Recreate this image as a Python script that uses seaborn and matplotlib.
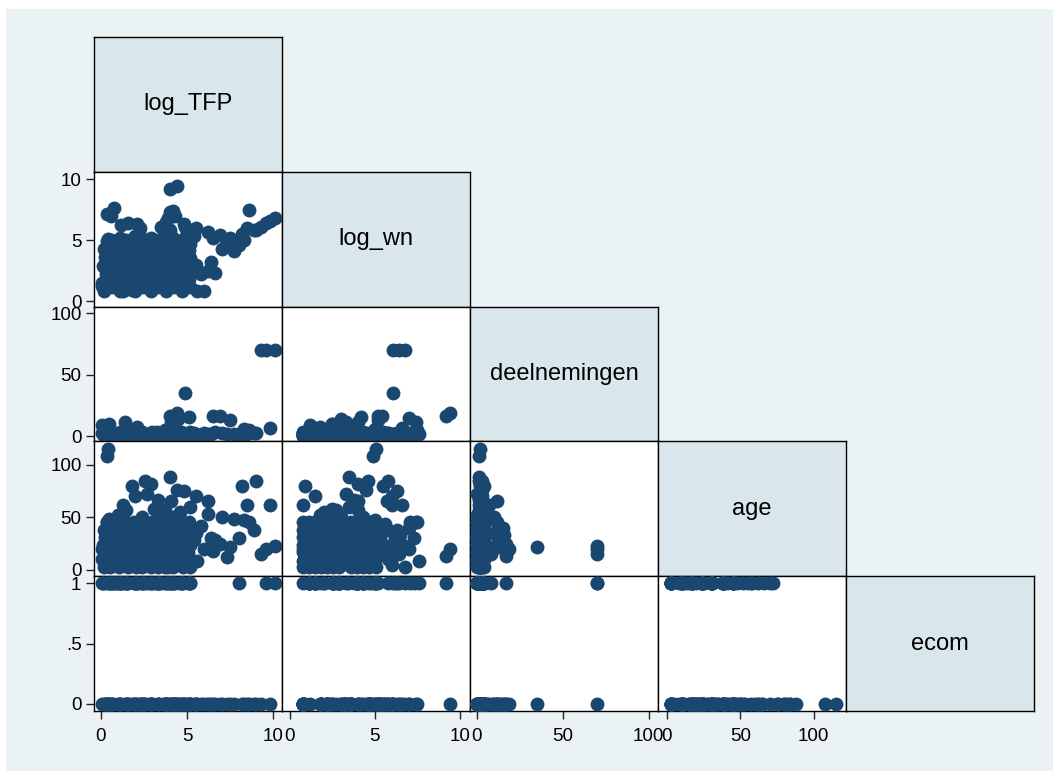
import matplotlib
matplotlib.use("Agg")
import matplotlib.pyplot as plt
import seaborn as sns
import pandas as pd
from matplotlib.patches import Rectangle

sns.set_style("white")
plt.rcParams["font.family"] = ["Liberation Sans", "DejaVu Sans"]

variables = ["log_TFP", "log_wn", "deelnemingen", "age", "ecom"]

log_TFP = [
    0.2, 0.1, 0.3, 0.15, 0.25, 0.2, 0.35,
    0.65, 0.6, 0.7, 0.65, 0.55, 0.7, 0.6,
    1.1, 1.05, 1.15, 1.1, 1.0, 1.2, 1.1,
    1.55, 1.5, 1.6, 1.55, 1.45, 1.6, 1.5,
    2.0, 1.95, 2.05, 2.0, 1.9, 2.1, 2.0,
    2.45, 2.4, 2.5, 2.45, 2.35, 2.5, 2.4,
    2.9, 2.85, 2.95, 2.9, 2.8, 3.0, 2.9,
    3.35, 3.3, 3.4, 3.35, 3.25, 3.4, 3.3,
    3.8, 3.75, 3.85, 3.8, 3.7, 3.85, 3.8,
    4.25, 4.2, 4.3, 4.25, 4.15, 4.3, 4.2,
    4.7, 4.65, 4.75, 4.7, 4.6, 4.75, 4.7,
    5.15, 5.1, 5.2, 5.15, 5.05, 5.2, 5.1,
    0.35, 0.45, 0.4, 0.6, 0.8, 4.0, 4.4, 4.2, 4.3, 1.2,
    1.6, 2.1, 2.3, 3.5, 3.8, 4.0, 5.4, 5.0, 5.5, 5.8,
    6.0, 5.6, 6.2, 6.4, 6.6, 6.5, 6.9, 7.0, 7.3, 7.5,
    7.7, 8.0, 8.3, 8.6, 8.2, 8.5, 8.9, 9.0, 9.3, 9.6,
    10.1, 9.8, 4.9, 1.3, 1.8, 2.7, 2.9, 4.0, 4.4, 4.8,
    5.5, 6.2, 2.0, 1.5, 3.1, 3.6, 0.5, 2.4, 4.6, 5.2,
    2.6, 4.1, 4.2, 4.5, 5.1, 0.1, 0.5, 1.4, 2.1, 3.9,
    4.0, 1.0, 3.3, 2.2, 0.9, 3.7,
]

log_wn = [
    0.8, 1.5, 2.2, 2.9, 3.6, 4.3, 4.6,
    1.15, 1.85, 2.55, 3.25, 3.95, 4.65, 5.0,
    0.8, 1.5, 2.2, 2.9, 3.6, 4.3, 5.2,
    1.15, 1.85, 2.55, 3.25, 3.95, 4.65, 5.0,
    0.8, 1.5, 2.2, 2.9, 3.6, 4.3, 5.3,
    1.15, 1.85, 2.55, 3.25, 3.95, 4.65, 5.1,
    0.8, 1.5, 2.2, 2.9, 3.6, 4.3, 5.2,
    1.15, 1.85, 2.55, 3.25, 3.95, 4.65, 5.0,
    0.8, 1.5, 2.2, 2.9, 3.6, 4.3, 5.3,
    1.15, 1.85, 2.55, 3.25, 3.95, 4.65, 5.2,
    0.8, 1.5, 2.2, 2.9, 3.6, 4.3, 5.0,
    1.15, 1.85, 2.55, 3.25, 3.95, 4.65, 4.8,
    4.9, 5.1, 7.1, 7.0, 7.6, 9.2, 9.4, 7.4, 7.0, 6.2,
    6.4, 6.3, 6.0, 6.1, 6.5, 5.8, 5.3, 5.6, 3.0, 2.2,
    0.8, 0.8, 2.5, 3.2, 2.3, 5.2, 5.4, 4.3, 4.8, 5.2,
    4.1, 4.6, 5.0, 7.5, 5.5, 6.0, 5.8, 5.8, 6.1, 6.4,
    6.8, 6.6, 6.1, 0.8, 0.9, 3.3, 4.0, 3.5, 4.5, 6.3,
    6.0, 5.7, 1.5, 4.0, 2.5, 1.8, 2.0, 3.0, 2.0, 3.5,
    4.6, 4.0, 2.5, 3.0, 4.2, 1.2, 2.5, 3.3, 1.8, 6.8,
    7.3, 2.8, 3.8, 5.6, 3.4, 2.7,
]

deelnemingen = [
    1, 3, 0, 2, 4, 1, 2,
    3, 0, 2, 4, 1, 2, 1,
    0, 2, 4, 1, 2, 1, 3,
    2, 4, 1, 2, 1, 3, 0,
    4, 1, 2, 1, 3, 0, 2,
    1, 2, 1, 3, 0, 2, 4,
    2, 1, 3, 0, 2, 4, 1,
    1, 3, 0, 2, 4, 1, 2,
    3, 0, 2, 4, 1, 2, 1,
    0, 2, 4, 1, 2, 1, 3,
    2, 4, 1, 2, 1, 3, 0,
    4, 1, 2, 1, 3, 0, 2,
    1, 2, 1, 3, 2, 17, 19, 12, 15, 2,
    1, 3, 0, 2, 4, 1, 3, 2, 2, 1,
    3, 0, 1, 2, 4, 17, 17, 3, 2, 13,
    2, 1, 6, 5, 4, 2, 3, 3, 70, 70,
    70, 7, 35, 1, 2, 0, 2, 1, 3, 2,
    1, 2, 3, 1, 2, 0, 1, 2, 3, 2,
    1, 12, 10, 14, 16, 9, 10, 12, 8, 1,
    0, 2, 1, 3, 0, 5,
]

age = [
    3, 10, 17, 24, 31, 38, 45,
    24, 31, 38, 45, 3, 10, 17,
    45, 3, 10, 17, 24, 31, 38,
    17, 24, 31, 38, 45, 3, 10,
    38, 45, 3, 10, 17, 24, 31,
    10, 17, 24, 31, 38, 45, 3,
    31, 38, 45, 3, 10, 17, 24,
    3, 10, 17, 24, 31, 38, 45,
    24, 31, 38, 45, 3, 10, 17,
    45, 3, 10, 17, 24, 31, 38,
    17, 24, 31, 38, 45, 3, 10,
    38, 45, 3, 10, 17, 24, 31,
    108, 115, 45, 20, 8, 13, 20, 45, 40, 30,
    15, 38, 5, 25, 33, 10, 28, 22, 35, 42,
    20, 8, 53, 30, 28, 18, 25, 50, 12, 22,
    48, 30, 47, 45, 80, 62, 38, 84, 15, 20,
    23, 62, 22, 62, 80, 72, 82, 88, 76, 75,
    70, 65, 70, 57, 58, 52, 48, 50, 55, 60,
    84, 65, 50, 40, 33, 20, 35, 25, 15, 3,
    30, 52, 66, 44, 41, 57,
]

ecom = [
    0, 1, 0, 1, 0, 1, 0,
    1, 0, 1, 0, 1, 0, 1,
    0, 1, 0, 1, 0, 1, 0,
    1, 0, 1, 0, 1, 0, 1,
    0, 1, 0, 1, 0, 1, 0,
    1, 0, 1, 0, 1, 0, 1,
    0, 1, 0, 1, 0, 1, 0,
    1, 0, 1, 0, 1, 0, 1,
    0, 1, 0, 1, 0, 1, 0,
    1, 0, 1, 0, 1, 0, 1,
    0, 1, 0, 1, 0, 1, 0,
    1, 0, 1, 0, 1, 0, 1,
    0, 0, 1, 0, 1, 1, 0, 0, 0, 1,
    0, 1, 0, 1, 0, 1, 0, 0, 0, 0,
    0, 0, 0, 0, 0, 0, 0, 0, 0, 0,
    0, 1, 0, 0, 0, 0, 0, 0, 0, 1,
    1, 0, 0, 1, 0, 1, 0, 0, 0, 0,
    0, 0, 1, 1, 1, 0, 1, 0, 1, 0,
    0, 0, 0, 0, 0, 0, 0, 0, 1, 0,
    1, 1, 1, 0, 1, 0,
]

axis_limits = {
    "log_TFP": (-0.38, 10.5),
    "log_wn": (-0.45, 10.6),
    "deelnemingen": (-4.0, 105.5),
    "age": (-6.0, 122.0),
    "ecom": (-0.058, 1.058),
}
tick_values = {
    "log_TFP": [0, 5, 10],
    "log_wn": [0, 5, 10],
    "deelnemingen": [0, 50, 100],
    "age": [0, 50, 100],
    "ecom": [0, 0.5, 1],
}
tick_labels = {
    "log_TFP": ["0", "5", "10"],
    "log_wn": ["0", "5", "10"],
    "deelnemingen": ["0", "50", "100"],
    "age": ["0", "50", "100"],
    "ecom": ["0", ".5", "1"],
}

df = pd.DataFrame({
    "log_TFP": log_TFP,
    "log_wn": log_wn,
    "deelnemingen": deelnemingen,
    "age": age,
    "ecom": ecom,
})

navy = "#1A476F"
bg = "#EAF2F3"
diag_fill = "#D9E6EB"

W, H = 1053, 771
fig = plt.figure(figsize=(W / 100, H / 100), dpi=100, facecolor="white")
bg_rect = Rectangle((6 / W, 0), 1, 1 - 9 / H, transform=fig.transFigure,
                    facecolor=bg, edgecolor="none", zorder=-10)
fig.patches.append(bg_rect)
gs = fig.add_gridspec(5, 5, left=94 / W, right=1034 / W, top=1 - 37 / H,
                      bottom=1 - 711 / H, wspace=0, hspace=0)

n = len(variables)
for i in range(n):
    for j in range(i + 1):
        ax = fig.add_subplot(gs[i, j])
        ax.set_zorder(1)
        yv, xv = variables[i], variables[j]
        if i == j:
            ax.set_facecolor(diag_fill)
            ax.text(0.5, 0.5, yv, transform=ax.transAxes, ha="center", va="center",
                    fontsize=17, color="black")
        else:
            ax.set_facecolor("white")
            sns.scatterplot(data=df, x=xv, y=yv, ax=ax, color=navy, s=100,
                            linewidth=0, legend=False, zorder=3)
        ax.set_xlim(axis_limits[xv])
        ax.set_ylim(axis_limits[yv])
        ax.set_xlabel("")
        ax.set_ylabel("")
        for sp in ax.spines.values():
            sp.set_visible(True)
            sp.set_color("black")
            sp.set_linewidth(1.0)
        ax.tick_params(axis="both", direction="out", length=6, width=1,
                       color="#222222", labelsize=13.5, labelcolor="black")
        if j == 0 and i > 0:
            ax.set_yticks(tick_values[yv])
            ax.set_yticklabels(tick_labels[yv])
            ax.tick_params(axis="y", pad=3, left=True)
        else:
            ax.set_yticks([])
        if i == n - 1 and j < n - 1:
            ax.set_xticks(tick_values[xv])
            ax.set_xticklabels(tick_labels[xv])
            ax.tick_params(axis="x", pad=6, bottom=True)
        else:
            ax.set_xticks([])

fig.savefig("out.png", dpi=100, facecolor=fig.get_facecolor())
